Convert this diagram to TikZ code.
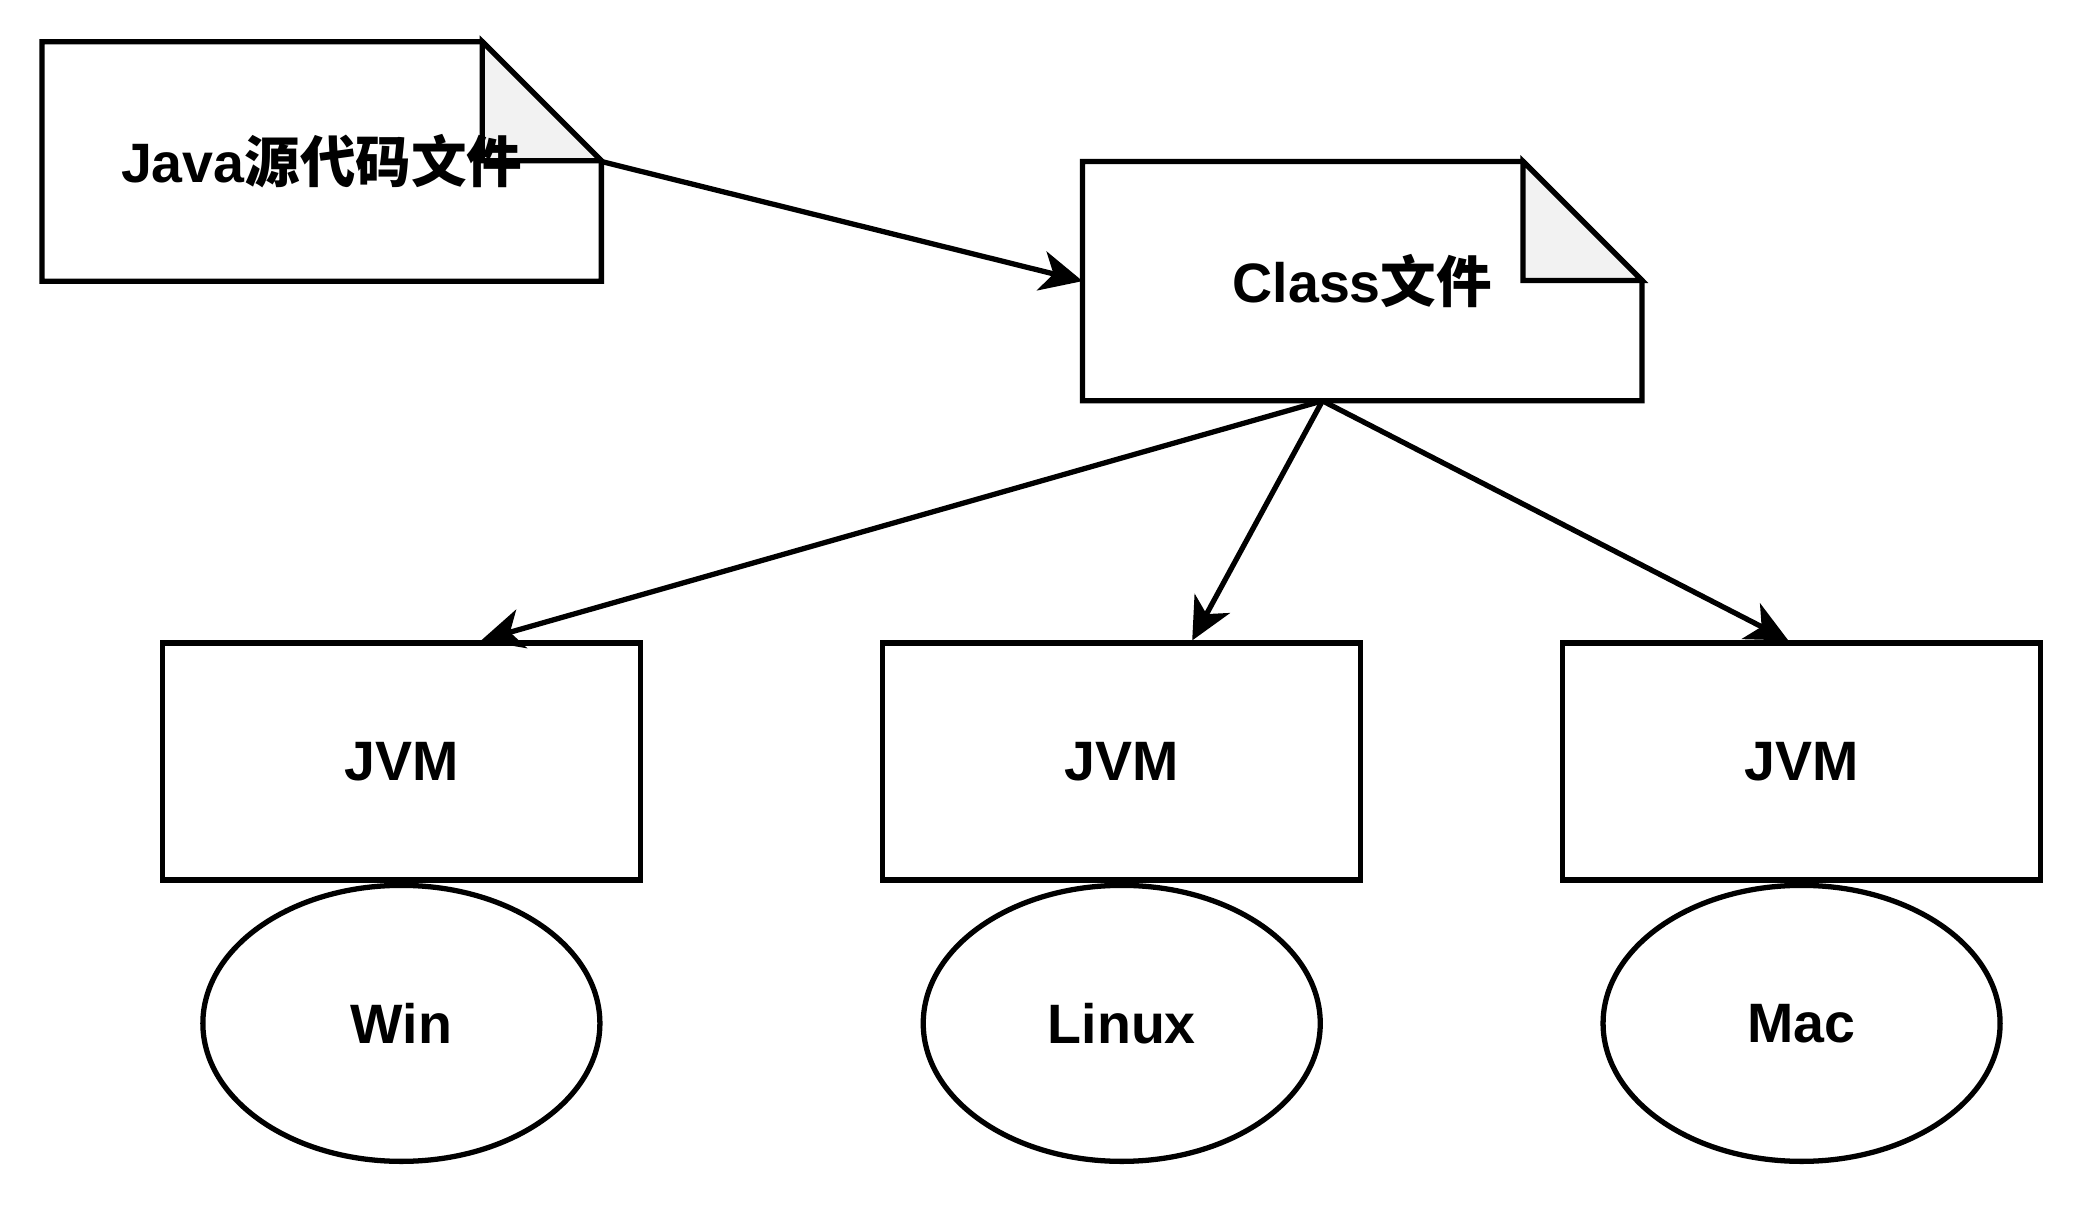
\documentclass[tikz,border=0pt]{standalone}
\usepackage{fontspec}
\setmainfont{Liberation Sans}
\newfontfamily\cjk{Noto Sans CJK SC}
\usepackage{xcolor}
\definecolor{foldgray}{HTML}{F2F2F2}
\usetikzlibrary{arrows.meta, shapes.geometric, positioning, calc}
\pgfdeclarelayer{background}
\pgfsetlayers{background,main}

\begin{document}
\begin{tikzpicture}[x=0.013291cm, y=-0.013291cm,
    font=\bfseries\fontsize{15.8}{18}\selectfont,
    edge/.style={-{Stealth[length=0.42cm, width=0.40cm, inset=0.12cm]},
                 line width=1.5pt},
    outline/.style={line width=1.5pt},
    doc/.style={minimum width=5.58cm, minimum height=2.38cm, inner sep=0pt},
    jvmbox/.style={draw, line width=1.5pt, minimum width=4.78cm,
                   minimum height=2.37cm},
    osnode/.style={draw, ellipse, line width=1.5pt, minimum width=3.97cm,
                   minimum height=2.76cm, inner sep=0pt}]
  \useasboundingbox (0,0) rectangle (1568,906);

  % files
  \node[doc] (java) at (242,121.5) {Java{\cjk 源代码文件}};
  \node[doc] (cls) at (1025,211.5) {Class{\cjk 文件}};

  % note outlines behind the text
  \begin{pgfonlayer}{background}
    \foreach \n in {java, cls} {
      \filldraw[outline, fill=white] (\n.north west)
        -- ([xshift=-1.19cm]\n.north east)
        -- ([yshift=-1.19cm]\n.north east) -- (\n.south east)
        -- (\n.south west) -- cycle;
      \filldraw[outline, fill=foldgray] ([xshift=-1.19cm]\n.north east)
        -- ([yshift=-1.19cm]\n.north east) -- ++(-1.19cm,0) -- cycle;
    }
  \end{pgfonlayer}

  % virtual machines
  \node[jvmbox] (jvmwin) at (302,573) {JVM};
  \node[jvmbox] (jvmlinux) at (844,573) {JVM};
  \node[jvmbox] (jvmmac) at (1355.5,573) {JVM};

  % platforms
  \node[osnode, below=0pt of jvmwin] (win) {Win};
  \node[osnode, below=0pt of jvmlinux] (linux) {Linux};
  \node[osnode, below=0pt of jvmmac] (mac) {Mac};

  \coordinate (fork) at ($(cls.south)+(-30,0)$);

  \draw[edge] (java.east) -- (cls.west);
  \draw[edge] (fork) -- ($(jvmwin.north)+(60,0)$);
  \draw[edge] (fork) -- ($(jvmlinux.north)+(53,0)$);
  \draw[edge] (fork) -- ($(jvmmac.north)+(-10,0)$);
\end{tikzpicture}
\end{document}
